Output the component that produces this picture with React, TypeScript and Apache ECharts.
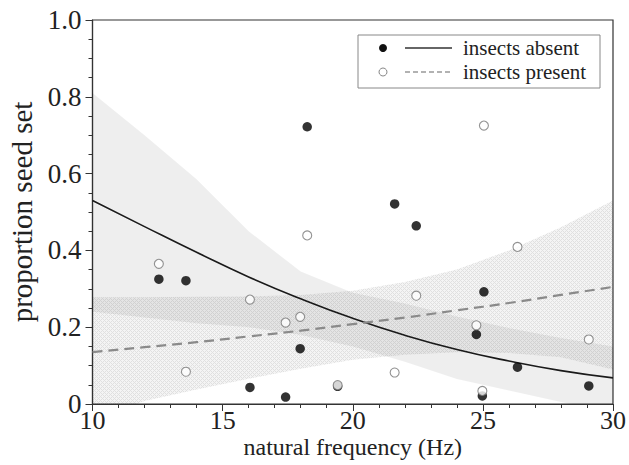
import React, { useEffect, useRef } from "react";
import * as echarts from "echarts";

// knots along natural frequency (Hz) for fitted curves and confidence bands
const fitX = [10, 12, 14, 16, 18, 20, 22, 24, 26, 28, 30];
const absentFit = [0.53, 0.462, 0.395, 0.331, 0.274, 0.223, 0.179, 0.142, 0.112, 0.087, 0.068];
const absentUpper = [0.81, 0.7, 0.585, 0.45, 0.345, 0.29, 0.262, 0.228, 0.198, 0.172, 0.15];
const absentLower = [0.24, 0.225, 0.21, 0.2, 0.18, 0.15, 0.11, 0.065, 0.035, 0.005, -0.02];
const presentFit = [0.135, 0.148, 0.161, 0.176, 0.191, 0.208, 0.225, 0.244, 0.263, 0.284, 0.305];
const presentUpper = [0.278, 0.278, 0.279, 0.28, 0.284, 0.295, 0.318, 0.35, 0.4, 0.46, 0.53];
const presentLower = [-0.04, 0.008, 0.038, 0.066, 0.092, 0.115, 0.128, 0.135, 0.133, 0.122, 0.09];

// observed plants
const absentX = [12.55, 13.59, 16.05, 17.42, 17.98, 18.25, 19.42, 21.61, 22.44, 24.75, 24.98, 25.04, 26.33, 29.07];
const absentY = [0.325, 0.321, 0.043, 0.018, 0.144, 0.722, 0.046, 0.521, 0.464, 0.181, 0.021, 0.292, 0.096, 0.047];
const presentX = [12.55, 13.59, 16.05, 17.42, 17.98, 18.25, 19.42, 21.61, 22.44, 24.75, 24.98, 25.04, 26.33, 29.07];
const presentY = [0.365, 0.084, 0.272, 0.212, 0.227, 0.439, 0.049, 0.082, 0.282, 0.205, 0.034, 0.725, 0.409, 0.168];

const legendLabels = ["insects absent", "insects present"];
const xTitle = "natural frequency (Hz)";
const yTitle = "proportion seed set";

const FONT = '"Liberation Serif", "Times New Roman", "DejaVu Serif", serif';
const TXT = "#222";

function hatchPattern(): any {
  const c = document.createElement("canvas");
  c.width = 4;
  c.height = 4;
  const ctx = c.getContext("2d");
  if (!ctx) return "rgba(0,0,0,0.075)";
  const img = ctx.createImageData(4, 4);
  for (let j = 0; j < 4; j++) {
    for (let i = 0; i < 4; i++) {
      const on = (i + j) % 4 === 0 || (i - j + 4) % 4 === 0;
      const k = (j * 4 + i) * 4;
      img.data[k] = 0;
      img.data[k + 1] = 0;
      img.data[k + 2] = 0;
      img.data[k + 3] = Math.round((on ? 0.12 : 0.045) * 255);
    }
  }
  ctx.putImageData(img, 0, 0);
  return { image: c, repeat: "repeat" };
}

function band(upper: number[], lower: number[], fill: any) {
  return {
    type: "custom",
    coordinateSystem: "cartesian2d",
    clip: true,
    silent: true,
    z: 1,
    data: [[fitX[0], upper[0]]],
    renderItem: (_p: any, api: any) => {
      const pts: number[][] = [];
      for (let i = 0; i < fitX.length; i++) pts.push(api.coord([fitX[i], upper[i]]));
      for (let i = fitX.length - 1; i >= 0; i--) pts.push(api.coord([fitX[i], lower[i]]));
      return { type: "polygon", shape: { points: pts }, style: { fill } };
    },
  };
}

export default function App() {
  const ref = useRef<HTMLDivElement>(null);
  useEffect(() => {
    if (!ref.current) return;
    const chart = echarts.init(ref.current, undefined, { renderer: "svg" });
    const lx = 358, ly = 35;
    chart.setOption({
      animation: false,
      backgroundColor: "#fff",
      textStyle: { fontFamily: FONT },
      grid: {
        left: 92.5,
        right: 16,
        top: 20,
        bottom: 61,
        outerBoundsMode: "none",
        containLabel: false,
        show: true,
        borderColor: "#333",
        borderWidth: 1.2,
        backgroundColor: "transparent",
      },
      xAxis: {
        type: "value",
        min: 10,
        max: 30,
        interval: 5,
        name: xTitle,
        nameLocation: "middle",
        nameGap: 31,
        nameMoveOverlap: false,
        nameTextStyle: { fontFamily: FONT, fontSize: 24, color: TXT },
        axisLine: { show: true, lineStyle: { color: "#333", width: 1.2 } },
        axisTick: { show: true, length: 7, lineStyle: { color: "#333" } },
        minorTick: { show: true, splitNumber: 5, length: 4, lineStyle: { color: "#333" } },
        splitLine: { show: false },
        axisLabel: { fontFamily: FONT, fontSize: 26, color: TXT, margin: 3 },
      },
      yAxis: {
        type: "value",
        min: 0,
        max: 1,
        interval: 0.2,
        name: yTitle,
        nameLocation: "middle",
        nameGap: 52,
        nameTextStyle: { fontFamily: FONT, fontSize: 29, color: TXT },
        axisLine: { show: true, lineStyle: { color: "#333", width: 1.2 } },
        axisTick: { show: true, length: 7, lineStyle: { color: "#333" } },
        minorTick: { show: true, splitNumber: 4, length: 4, lineStyle: { color: "#333" } },
        splitLine: { show: false },
        axisLabel: {
          fontFamily: FONT,
          fontSize: 27,
          color: TXT,
          margin: 11,
          formatter: (v: number) => (v === 0 ? "0" : v.toFixed(1)),
        },
      },
      series: [
        band(absentUpper, absentLower, "rgba(0,0,0,0.065)"),
        band(presentUpper, presentLower, hatchPattern()),
        {
          type: "line",
          data: fitX.map((x, i) => [x, absentFit[i]]),
          smooth: true,
          showSymbol: false,
          z: 3,
          lineStyle: { color: "#1a1a1a", width: 1.6 },
        },
        {
          type: "line",
          data: fitX.map((x, i) => [x, presentFit[i]]),
          smooth: true,
          showSymbol: false,
          z: 3,
          lineStyle: { color: "#8a8a8a", width: 2.2, type: [10, 6] },
        },
        {
          type: "scatter",
          data: absentX.map((x, i) => [x, absentY[i]]),
          symbol: "circle",
          symbolSize: 9.5,
          z: 4,
          itemStyle: { color: "#000" },
        },
        {
          type: "scatter",
          data: presentX.map((x, i) => [x, presentY[i]]),
          symbol: "circle",
          symbolSize: 9,
          z: 5,
          itemStyle: { color: "#fff", borderColor: "#777", borderWidth: 1.1 },
        },
      ],
      graphic: [
        {
          type: "rect",
          shape: { x: lx, y: ly, width: 242, height: 53 },
          style: { fill: "#fff", stroke: "#888", lineWidth: 1 },
          z: 10,
        },
        { type: "circle", shape: { cx: lx + 25, cy: ly + 13, r: 4 }, style: { fill: "#111" }, z: 11 },
        { type: "line", shape: { x1: lx + 47, y1: ly + 13, x2: lx + 94, y2: ly + 13 }, style: { stroke: "#333", lineWidth: 1.4 }, z: 11 },
        { type: "text", x: lx + 105, y: ly + 13, style: { text: legendLabels[0], fontFamily: FONT, fontSize: 21, fill: TXT, textVerticalAlign: "middle", verticalAlign: "middle" }, z: 11 },
        { type: "circle", shape: { cx: lx + 25, cy: ly + 37, r: 4 }, style: { fill: "#fff", stroke: "#888", lineWidth: 1 }, z: 11 },
        { type: "line", shape: { x1: lx + 47, y1: ly + 37, x2: lx + 94, y2: ly + 37 }, style: { stroke: "#999", lineWidth: 1.4, lineDash: [5, 3] }, z: 11 },
        { type: "text", x: lx + 105, y: ly + 37, style: { text: legendLabels[1], fontFamily: FONT, fontSize: 21, fill: TXT, textVerticalAlign: "middle", verticalAlign: "middle" }, z: 11 },
      ],
    });
    return () => chart.dispose();
  }, []);
  return <div ref={ref} style={{ position: "fixed", left: 0, top: 0, width: 629, height: 465 }} />;
}
